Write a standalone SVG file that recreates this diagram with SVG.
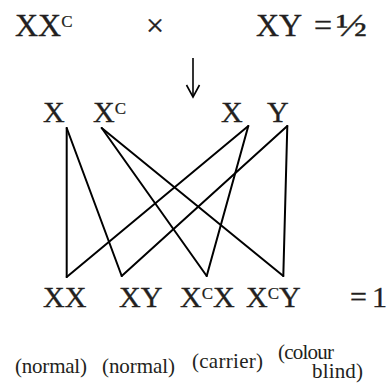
<svg xmlns="http://www.w3.org/2000/svg" width="390" height="390" viewBox="0 0 390 390">
<style>
text{font-family:"Liberation Serif","Times New Roman",serif;fill:#231f20}
.big{font-size:30px;stroke:#231f20;stroke-width:0.35}
.top{font-size:32px;stroke:#231f20;stroke-width:0.35}
.sup{font-size:17px;stroke-width:0.2}
.lab{font-size:21px}
.conn line{stroke:#000;stroke-width:2;stroke-linecap:round}
</style>
<rect width="390" height="390" fill="#fff"/>
<g id="parents">
<text class="top" x="15" y="36">XX<tspan class="sup" dy="-9">C</tspan></text>
<text class="top" x="146" y="36" font-size="30px">×</text>
<text class="top" x="256" y="36">XY</text>
<text class="top" x="314" y="36">=</text>
<text class="top" x="336" y="36" textLength="31" lengthAdjust="spacingAndGlyphs">½</text>
</g>
<g id="arrow" fill="none" stroke="#000" stroke-width="1.6">
<line x1="193" y1="58" x2="193" y2="96"/>
<polyline points="186.5,85 193,97 199.5,85"/>
</g>
<g id="gamete-X1"><text class="big" x="43" y="121.5">X</text></g>
<g id="gamete-Xc"><text class="big" x="93" y="121.5">X<tspan class="sup" dy="-8">C</tspan></text></g>
<g id="gamete-X2"><text class="big" x="221" y="121.5">X</text></g>
<g id="gamete-Y"><text class="big" x="267" y="121.5">Y</text></g>
<g class="conn" id="connectors">
<line x1="66.7" y1="128" x2="66.7" y2="277"/>
<line x1="66.7" y1="128" x2="121.7" y2="276"/>
<line x1="101.7" y1="128" x2="206.7" y2="276"/>
<line x1="101.7" y1="128" x2="283.3" y2="276"/>
<line x1="248.3" y1="126" x2="66.7" y2="277"/>
<line x1="248.3" y1="126" x2="206.7" y2="276"/>
<line x1="287.3" y1="126" x2="121.7" y2="276"/>
<line x1="287.3" y1="126" x2="283.3" y2="276"/>
</g>
<g id="child-XX"><text class="big" x="43" y="307">XX</text><text class="lab" x="15" y="373" textLength="72">(normal)</text></g>
<g id="child-XY"><text class="big" x="119" y="307">XY</text><text class="lab" x="102" y="373" textLength="73">(normal)</text></g>
<g id="child-XcX"><text class="big" x="180" y="307">X<tspan class="sup" dy="-8">C</tspan><tspan dy="8">X</tspan></text><text class="lab" x="192" y="368" textLength="71">(carrier)</text></g>
<g id="child-XcY"><text class="big" x="246" y="307">X<tspan class="sup" dy="-8">C</tspan><tspan dy="8">Y</tspan></text><text class="lab" x="278" y="359" textLength="56">(colour</text><text class="lab" x="312" y="378" textLength="51">blind)</text></g>
<g id="total"><text class="big" x="350" y="307">=</text><text class="big" x="372" y="307">1</text></g>
</svg>
